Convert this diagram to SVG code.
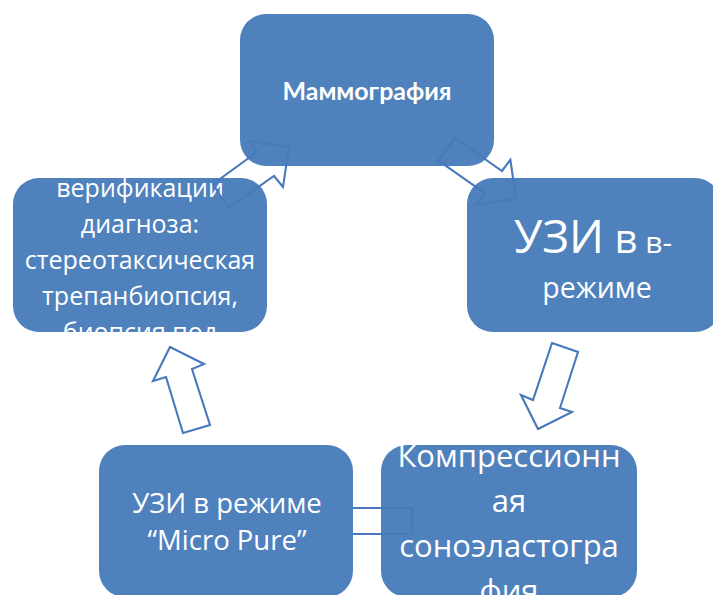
<svg xmlns="http://www.w3.org/2000/svg" width="713" height="595" viewBox="0 0 713 595">
<style>
.box{fill:#4F81BD;}
.t{fill:#ffffff;font-family:"Open Sans","Noto Sans",sans-serif;text-anchor:middle;}
.tb{fill:#ffffff;font-family:"Lato","Open Sans",sans-serif;font-weight:bold;text-anchor:middle;}
.arr{fill:none;stroke:#4879ba;stroke-width:2.1;stroke-linejoin:miter;}
</style>
<rect width="713" height="595" fill="#ffffff"/>
<g id="node-mammography">
<rect class="box" x="240" y="14" width="254" height="152" rx="26"/>
<text class="tb" x="367" y="100" font-size="25">Маммография</text>
</g>
<g id="node-verification">
<rect class="box" x="13" y="178" width="254" height="154" rx="26"/>
<text class="t" font-size="25"><tspan x="140" y="197">верификации</tspan><tspan x="140" y="233">диагноза:</tspan><tspan x="140" y="269">стереотаксическая</tspan><tspan x="140" y="305">трепанбиопсия,</tspan><tspan x="140" y="341">биопсия под</tspan></text>
</g>
<g id="node-uzi-b">
<rect class="box" x="467" y="178" width="254" height="154" rx="26"/>
<text class="t" x="593" y="253"><tspan font-size="46">УЗИ</tspan><tspan font-size="40"> в</tspan><tspan font-size="30"> в-</tspan></text>
<text class="t" x="597" y="298" font-size="28.5">режиме</text>
</g>
<g id="node-elastography">
<rect class="box" x="381" y="445" width="256" height="152" rx="26"/>
<text class="t" font-size="31"><tspan x="509" y="467">Компрессионн</tspan><tspan x="509" y="512">ая</tspan><tspan x="509" y="557">соноэластогра</tspan><tspan x="509" y="602">фия</tspan></text>
</g>
<g id="connectors">
<polygon class="arr" points="213,184 257,152 250,141 289,147 283,187 274,176 228,208"/>
<polygon class="arr" points="455,138 502,171 510.4,159.8 516,199 476.8,204.6 485.2,193.4 438.2,160.4"/>
<polygon class="arr" points="552,343 578,352 560,408 572,412 538,429 521,395 533,400"/>
<polygon class="arr" points="170,347 204,364 192,369 210,425 183,433 166,377 153,381"/>
<polygon class="arr" points="412,508 412,534 330,534 330,548 300,521 330,494 330,508"/>
</g>
<g id="node-micro-pure">
<rect class="box" x="99" y="445" width="254" height="152" rx="26"/>
<text class="t" font-size="27.5"><tspan x="227" y="513">УЗИ в режиме</tspan><tspan x="227" y="550">“Micro Pure”</tspan></text>
</g>
</svg>
